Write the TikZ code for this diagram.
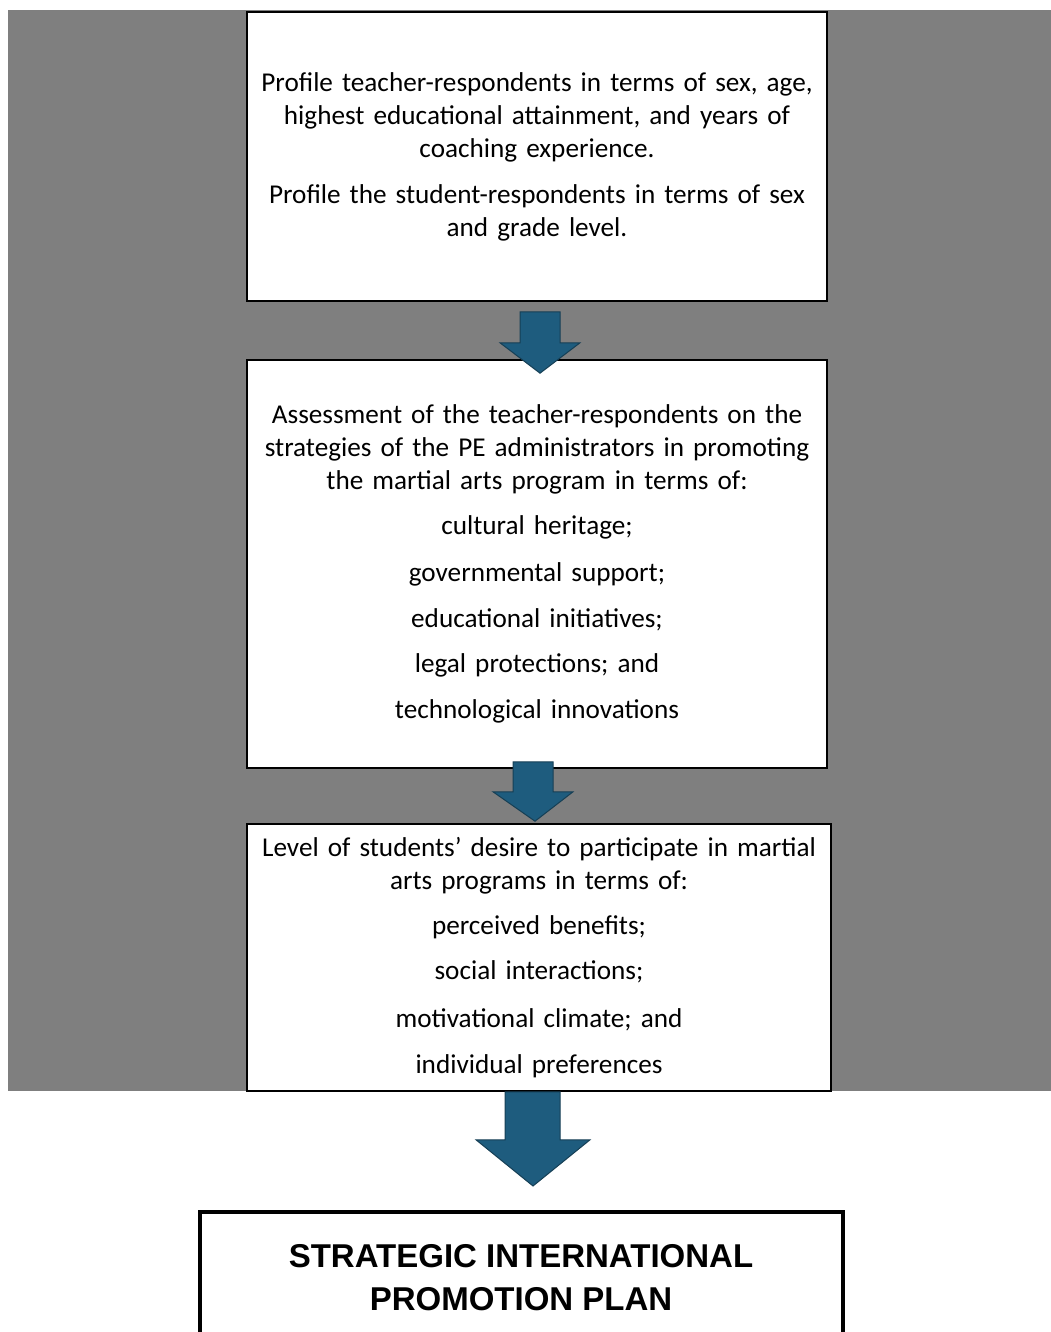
\documentclass[tikz,border=0pt]{standalone}
\usepackage{fontspec}
\setmainfont{Carlito}
\newfontfamily\titlefont{Liberation Sans}
\usetikzlibrary{calc}
\definecolor{bggray}{HTML}{7F7F7F}
\definecolor{arrowblue}{HTML}{1E5C7E}
\definecolor{arrowedge}{HTML}{163F55}
\tikzset{
  box/.style={draw=black, line width=1.6pt, fill=white, align=center,
    font=\fontsize{27.2}{33}\selectfont, inner sep=0pt, text width=575pt},
  blockarrow/.style={fill=arrowblue, draw=arrowedge, line width=1pt, line join=miter},
  titlebox/.style={draw=black, line width=3.2pt, fill=white},
  titletext/.style={font=\titlefont\bfseries\fontsize{33}{43}\selectfont, align=center, inner sep=0pt}
}
\begin{document}
\begin{tikzpicture}[x=1pt,y=-1pt]
\useasboundingbox (0,0) rectangle (1051,1332);
\fill[bggray] (8,10) rectangle (1051,1091);
% boxes
\node[box, minimum width=580, minimum height=289] (b1) at (537,156.5) {Profile teacher-respondents in terms of sex, age,\\
highest educational attainment, and years of\\
coaching experience.\\[13pt]
Profile the student-respondents in terms of sex\\
and grade level.};
\node[box, minimum width=580, minimum height=408] (b2) at (537,564) {Assessment of the teacher-respondents on the\\
strategies of the PE administrators in promoting\\
the martial arts program in terms of:\\[12pt]
cultural heritage;\\[14pt]
governmental support;\\[13pt]
educational initiatives;\\[12pt]
legal protections; and\\[13pt]
technological innovations};
\node[box, minimum width=584, minimum height=267] (b3) at (539,957.5) {Level of students’ desire to participate in martial\\
arts programs in terms of:\\[12pt]
perceived benefits;\\[12pt]
social interactions;\\[15pt]
motivational climate; and\\[13pt]
individual preferences};
\draw[titlebox] (200,1350) |- (843,1212) -- (843,1350);
\node[titletext] (t4) at (521,1278) {STRATEGIC INTERNATIONAL\\PROMOTION PLAN};
% arrows
\filldraw[blockarrow] ($(b1.south)+(-17,10)$) -- ++(40,0) -- ++(0,31) -- ++(20,0)
  -- ($(b2.north)+(3,14)$) -- ($(b1.south)+(-37,41)$) -- ++(20,0) -- cycle;
\filldraw[blockarrow] ($(b2.south)+(-24,-7)$) -- ++(40,0) -- ++(0,30) -- ++(20,0)
  -- ($(b3.north)+(-4,-2)$) -- ($(b2.south)+(-44,23)$) -- ++(20,0) -- cycle;
\filldraw[blockarrow] ($(b3.south)+(-34,0)$) -- ++(55,0) -- ++(0,48) -- ++(30,0)
  -- (533,1186) -- ($(b3.south)+(-63,48)$) -- ++(29,0) -- cycle;
\end{tikzpicture}
\end{document}
